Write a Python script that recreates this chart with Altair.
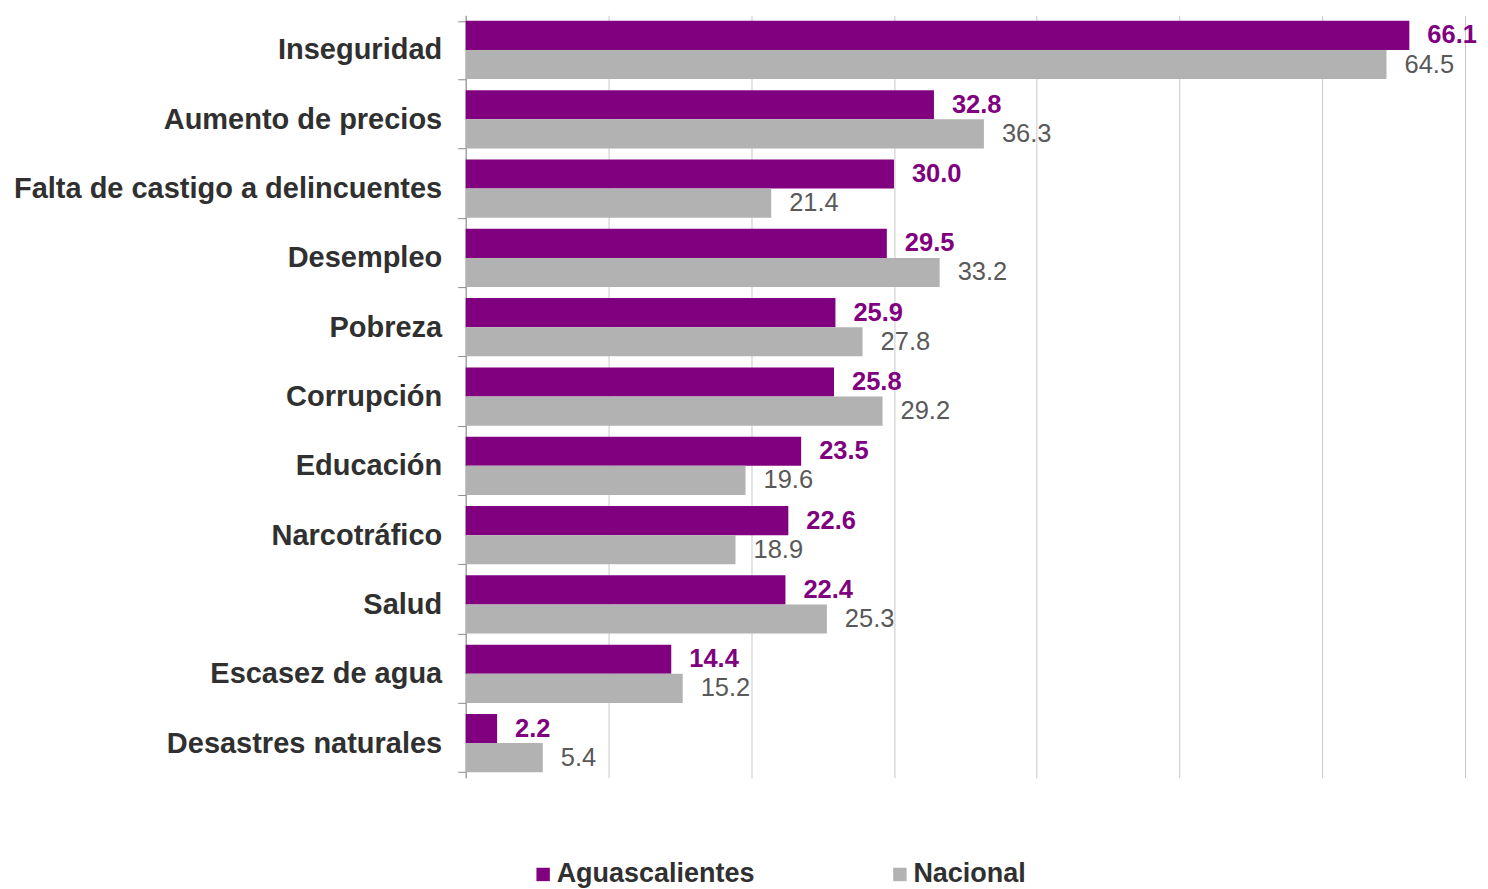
import altair as alt
import pandas as pd

categories = ["Inseguridad", "Aumento de precios", "Falta de castigo a delincuentes",
              "Desempleo", "Pobreza", "Corrupción", "Educación", "Narcotráfico",
              "Salud", "Escasez de agua", "Desastres naturales"]
aguascalientes = [66.1, 32.8, 30.0, 29.5, 25.9, 25.8, 23.5, 22.6, 22.4, 14.4, 2.2]
nacional = [64.5, 36.3, 21.4, 33.2, 27.8, 29.2, 19.6, 18.9, 25.3, 15.2, 5.4]
series = ["Aguascalientes", "Nacional"]
x_ticks = [0, 10, 20, 30, 40, 50, 60, 70]

rows = []
for c, a, n in zip(categories, aguascalientes, nacional):
    rows.append({"cat": c, "serie": series[0], "v": a})
    rows.append({"cat": c, "serie": series[1], "v": n})
df = pd.DataFrame(rows)

FONT = "Liberation Sans"
PURPLE = "#800080"
GRAY = "#B2B2B2"

y_enc = alt.Y("cat:N", sort=categories, title=None,
              scale=alt.Scale(paddingInner=0.16, paddingOuter=0.08),
              axis=alt.Axis(labelFont=FONT, labelFontSize=29, labelFontWeight="bold",
                            labelColor="#303030", labelPadding=16, tickBand="extent",
                            tickSize=8, tickColor="#8C8C8C", domainColor="#8C8C8C",
                            labelLimit=500))
yoff = alt.YOffset("serie:N", sort=series, scale=alt.Scale(paddingInner=0, paddingOuter=0))
x_enc = alt.X("v:Q", title=None,
              scale=alt.Scale(domain=[0, 70], nice=False, zero=True),
              axis=alt.Axis(values=x_ticks, labels=False, ticks=False, domain=False,
                            grid=True, gridColor="#C8C8C8", gridWidth=1))

bars = alt.Chart(df).mark_bar().encode(
    x=x_enc, y=y_enc, yOffset=yoff,
    color=alt.Color("serie:N", sort=series,
                    scale=alt.Scale(domain=series, range=[PURPLE, GRAY]),
                    legend=alt.Legend(title=None, orient="none", legendX=64, legendY=846,
                                      direction="horizontal", columns=2, padding=0,
                                      symbolType="square", symbolSize=180,
                                      symbolStrokeWidth=0, labelFont=FONT,
                                      labelFontSize=27, labelFontWeight="bold",
                                      labelColor="#303030",
                                      labelOffset=0, columnPadding=131,
                                      labelLimit=400))
)

lab_a = alt.Chart(df).transform_filter(alt.datum.serie == series[0]).mark_text(
    align="left", baseline="middle", dx=18, font=FONT, fontSize=25.5,
    fontWeight="bold", color=PURPLE
).encode(x="v:Q", y=alt.Y("cat:N", sort=categories), yOffset=alt.YOffset("serie:N", sort=series),
         text=alt.Text("v:Q", format=".1f"))

lab_n = alt.Chart(df).transform_filter(alt.datum.serie == series[1]).mark_text(
    align="left", baseline="middle", dx=18, font=FONT, fontSize=25.5,
    color="#595959"
).encode(x="v:Q", y=alt.Y("cat:N", sort=categories), yOffset=alt.YOffset("serie:N", sort=series),
         text=alt.Text("v:Q", format=".1f"))

chart = alt.layer(bars, lab_a, lab_n).properties(
    width=1000, height=763,
    autosize=alt.AutoSizeParams(type="none"),
    padding={"left": 458, "top": 7, "right": 15, "bottom": 110},
    background="white"
).configure_view(stroke=None)

chart.save("out.html", embed_options={"renderer": "svg", "actions": False})
